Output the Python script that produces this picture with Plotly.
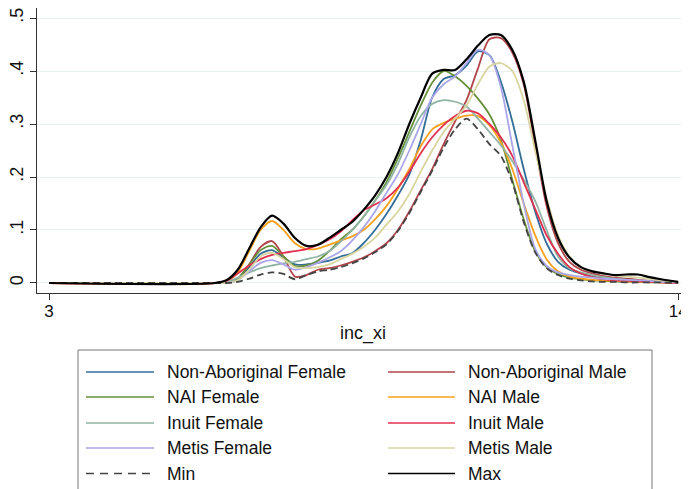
import plotly.graph_objects as go

# x grid (inc_xi)
x_vals = [3.0, 5.9, 6.1, 6.3, 6.5, 6.7, 6.9, 7.1, 7.3, 7.5, 7.7, 7.9, 8.1, 8.3, 8.5, 8.7, 8.9,
          9.1, 9.3, 9.5, 9.7, 9.9, 10.1, 10.3, 10.5, 10.7, 10.9, 11.1, 11.3, 11.5, 11.7, 11.9,
          12.1, 12.3, 12.5, 12.7, 12.9, 13.1, 13.3, 13.5, 13.7, 14.0]

non_ab_female = [0, 0, 0, 0.006, 0.03, 0.055, 0.062, 0.048, 0.035, 0.035, 0.038, 0.042, 0.05, 0.056,
                 0.075, 0.1, 0.13, 0.165, 0.205, 0.27, 0.35, 0.385, 0.392, 0.41, 0.437, 0.43, 0.38,
                 0.305, 0.215, 0.135, 0.075, 0.04, 0.025, 0.018, 0.012, 0.009, 0.007, 0.005, 0.004,
                 0.003, 0.002, 0.001]
non_ab_male = [0, 0, 0, 0.008, 0.035, 0.068, 0.079, 0.05, 0.012, 0.015, 0.025, 0.028, 0.033, 0.04,
               0.048, 0.06, 0.075, 0.1, 0.135, 0.175, 0.215, 0.262, 0.305, 0.345, 0.405, 0.46, 0.462,
               0.435, 0.375, 0.26, 0.145, 0.075, 0.04, 0.025, 0.018, 0.013, 0.01, 0.008, 0.006,
               0.004, 0.003, 0.001]
nai_female = [0, 0, 0, 0.008, 0.035, 0.062, 0.07, 0.05, 0.032, 0.033, 0.042, 0.06, 0.082, 0.1,
              0.125, 0.155, 0.19, 0.235, 0.285, 0.335, 0.378, 0.4, 0.39, 0.372, 0.348, 0.318, 0.27,
              0.195, 0.12, 0.06, 0.03, 0.017, 0.01, 0.007, 0.005, 0.004, 0.003, 0.002, 0.002,
              0.001, 0.001, 0]
nai_male = [0, 0, 0.003, 0.02, 0.06, 0.1, 0.117, 0.1, 0.075, 0.064, 0.065, 0.072, 0.08, 0.088,
            0.1, 0.12, 0.145, 0.178, 0.215, 0.258, 0.29, 0.302, 0.31, 0.316, 0.315, 0.298, 0.265,
            0.215, 0.15, 0.09, 0.045, 0.022, 0.012, 0.008, 0.006, 0.005, 0.004, 0.003, 0.002,
            0.002, 0.001, 0]
inuit_female = [0, 0, 0.002, 0.01, 0.02, 0.028, 0.033, 0.037, 0.04, 0.045, 0.05, 0.06, 0.078, 0.1,
                0.125, 0.155, 0.185, 0.225, 0.275, 0.315, 0.338, 0.345, 0.342, 0.333, 0.31, 0.285,
                0.26, 0.23, 0.195, 0.155, 0.1, 0.05, 0.028, 0.02, 0.015, 0.011, 0.008, 0.006,
                0.004, 0.003, 0.002, 0]
inuit_male = [0, 0, 0.004, 0.018, 0.033, 0.045, 0.053, 0.057, 0.06, 0.064, 0.072, 0.082, 0.097,
              0.118, 0.137, 0.148, 0.16, 0.18, 0.21, 0.245, 0.275, 0.298, 0.315, 0.325, 0.32, 0.3,
              0.275, 0.24, 0.19, 0.14, 0.09, 0.055, 0.03, 0.018, 0.011, 0.007, 0.005, 0.004,
              0.003, 0.002, 0.001, 0]
metis_female = [0, 0, 0, 0.005, 0.022, 0.038, 0.043, 0.035, 0.025, 0.03, 0.038, 0.048, 0.06, 0.08,
                0.105, 0.135, 0.17, 0.205, 0.25, 0.3, 0.35, 0.375, 0.39, 0.415, 0.44, 0.43, 0.37,
                0.26, 0.15, 0.065, 0.032, 0.02, 0.015, 0.012, 0.01, 0.008, 0.007, 0.006, 0.005,
                0.004, 0.002, 0.001]
metis_male = [0, 0, 0, 0.005, 0.025, 0.05, 0.057, 0.045, 0.03, 0.028, 0.03, 0.035, 0.045, 0.055,
              0.068, 0.085, 0.11, 0.135, 0.168, 0.21, 0.25, 0.285, 0.31, 0.335, 0.375, 0.408, 0.415,
              0.4, 0.345, 0.25, 0.16, 0.09, 0.05, 0.03, 0.022, 0.017, 0.014, 0.012, 0.01, 0.008,
              0.005, 0.002]
min_vals = [0, 0, 0, 0.002, 0.008, 0.016, 0.02, 0.017, 0.007, 0.015, 0.022, 0.025, 0.03, 0.037,
            0.046, 0.058, 0.073, 0.098, 0.132, 0.172, 0.212, 0.255, 0.29, 0.31, 0.29, 0.262, 0.24,
            0.19, 0.115, 0.058, 0.028, 0.015, 0.008, 0.005, 0.003, 0.002, 0.002, 0.001, 0.001,
            0.001, 0.001, 0]
max_vals = [0, 0, 0.005, 0.025, 0.065, 0.105, 0.127, 0.112, 0.085, 0.07, 0.072, 0.085, 0.1, 0.115,
            0.138, 0.165, 0.2, 0.245, 0.3, 0.35, 0.395, 0.402, 0.402, 0.422, 0.448, 0.468, 0.468,
            0.44, 0.38, 0.27, 0.155, 0.085, 0.048, 0.03, 0.022, 0.018, 0.015, 0.016, 0.016,
            0.011, 0.007, 0.002]

series_names = ["Non-Aboriginal Female", "Non-Aboriginal Male", "NAI Female", "NAI Male",
                "Inuit Female", "Inuit Male", "Metis Female", "Metis Male", "Min", "Max"]
series_values = [non_ab_female, non_ab_male, nai_female, nai_male, inuit_female, inuit_male,
                 metis_female, metis_male, min_vals, max_vals]
series_colors = ["#336d98", "#b0464b", "#66913a", "#f8a21e", "#90b4a3", "#e2314f",
                 "#aba6e9", "#d9d5a0", "#444444", "#000000"]
series_dash = ["solid"] * 8 + ["7px,4px", "solid"]
legend_dash = ["solid"] * 8 + ["8px,6px", "solid"]
series_width = [1.8] * 8 + [1.8, 2.2]

y_ticks = [0, 0.1, 0.2, 0.3, 0.4, 0.5]
y_ticktext = ["0", ".1", ".2", ".3", ".4", ".5"]
x_ticks = [3, 14]
x_ticktext = ["3", "14"]

FONT = "Liberation Sans, Arial, Helvetica, sans-serif"

fig = go.Figure()
for name, vals, col, dsh, w in zip(series_names, series_values, series_colors, series_dash, series_width):
    fig.add_trace(go.Scatter(x=x_vals, y=vals, mode="lines", name=name,
                             line=dict(color=col, width=w, dash=dsh, shape="spline", smoothing=0.8),
                             showlegend=False))

# The page body has an 8px margin, so the figure is sized to fill the rest of the window.
OFF = 8
W, H = 689 - OFF, 489 - OFF
plot_l, plot_r, plot_t, plot_b = 37, 689, 8, 293          # plot area in window pixels
ml, mr, mt, mb = plot_l - OFF, 689 - plot_r, plot_t - OFF, 489 - plot_b
pw, ph = W - ml - mr, H - mt - mb

def px_x(p):
    return (p - OFF - ml) / pw

def px_y(p):
    return (H - mb - (p - OFF)) / ph

fig.update_layout(
    width=W, height=H,
    margin=dict(l=ml, r=mr, t=mt, b=mb, pad=0),
    paper_bgcolor="white", plot_bgcolor="white",
    font=dict(family=FONT, size=16, color="#111111"),
    xaxis=dict(range=[2.79, 14.19], tickvals=x_ticks, ticktext=x_ticktext, automargin=False,
               showgrid=False, zeroline=False, showline=True, linecolor="#333333", linewidth=1,
               ticks="outside", ticklen=6, tickcolor="#333333", ticklabelstandoff=-3,
               ticklabeloverflow="allow",
               tickfont=dict(size=17, family=FONT)),
    yaxis=dict(range=[-0.0189, 0.5189], tickvals=y_ticks, ticktext=y_ticktext, tickangle=-90,
               automargin=False, ticklabeloverflow="allow",
               showgrid=True, gridcolor="#e8f0f1", gridwidth=1, zeroline=False,
               showline=True, linecolor="#333333", linewidth=1,
               ticks="outside", ticklen=6, tickcolor="#333333",
               tickfont=dict(size=18, family=FONT)),
)

# x-axis title
fig.add_annotation(xref="paper", yref="paper", x=px_x(363), y=px_y(333), text="inc_xi",
                   showarrow=False, xanchor="center", yanchor="middle",
                   font=dict(size=18, family=FONT, color="#111111"))

# Legend drawn as a boxed two-column key
box_l, box_r, box_t, box_b = 78, 652, 350, 520
fig.add_shape(type="rect", xref="paper", yref="paper",
              x0=px_x(box_l), x1=px_x(box_r), y0=px_y(box_b), y1=px_y(box_t),
              line=dict(color="#777777", width=1), fillcolor="white", layer="above")
row_y = [372, 397, 423, 448, 473.5]
col_line = [(86, 154), (388, 455)]
col_text = [165, 466]
for i, (name, col, dsh) in enumerate(zip(series_names, series_colors, legend_dash)):
    r, c = i // 2, i % 2
    y = row_y[r]
    fig.add_shape(type="line", xref="paper", yref="paper",
                  x0=px_x(col_line[c][0]), x1=px_x(col_line[c][1]), y0=px_y(y), y1=px_y(y),
                  line=dict(color=col, width=1.3 if name != "Max" else 1.6, dash=dsh), layer="above")
    fig.add_annotation(xref="paper", yref="paper", x=px_x(col_text[c]), y=px_y(y),
                       text=name, showarrow=False, xanchor="left", yanchor="middle",
                       font=dict(size=17.5, family=FONT, color="#111111"))

fig.write_html("out.html")
